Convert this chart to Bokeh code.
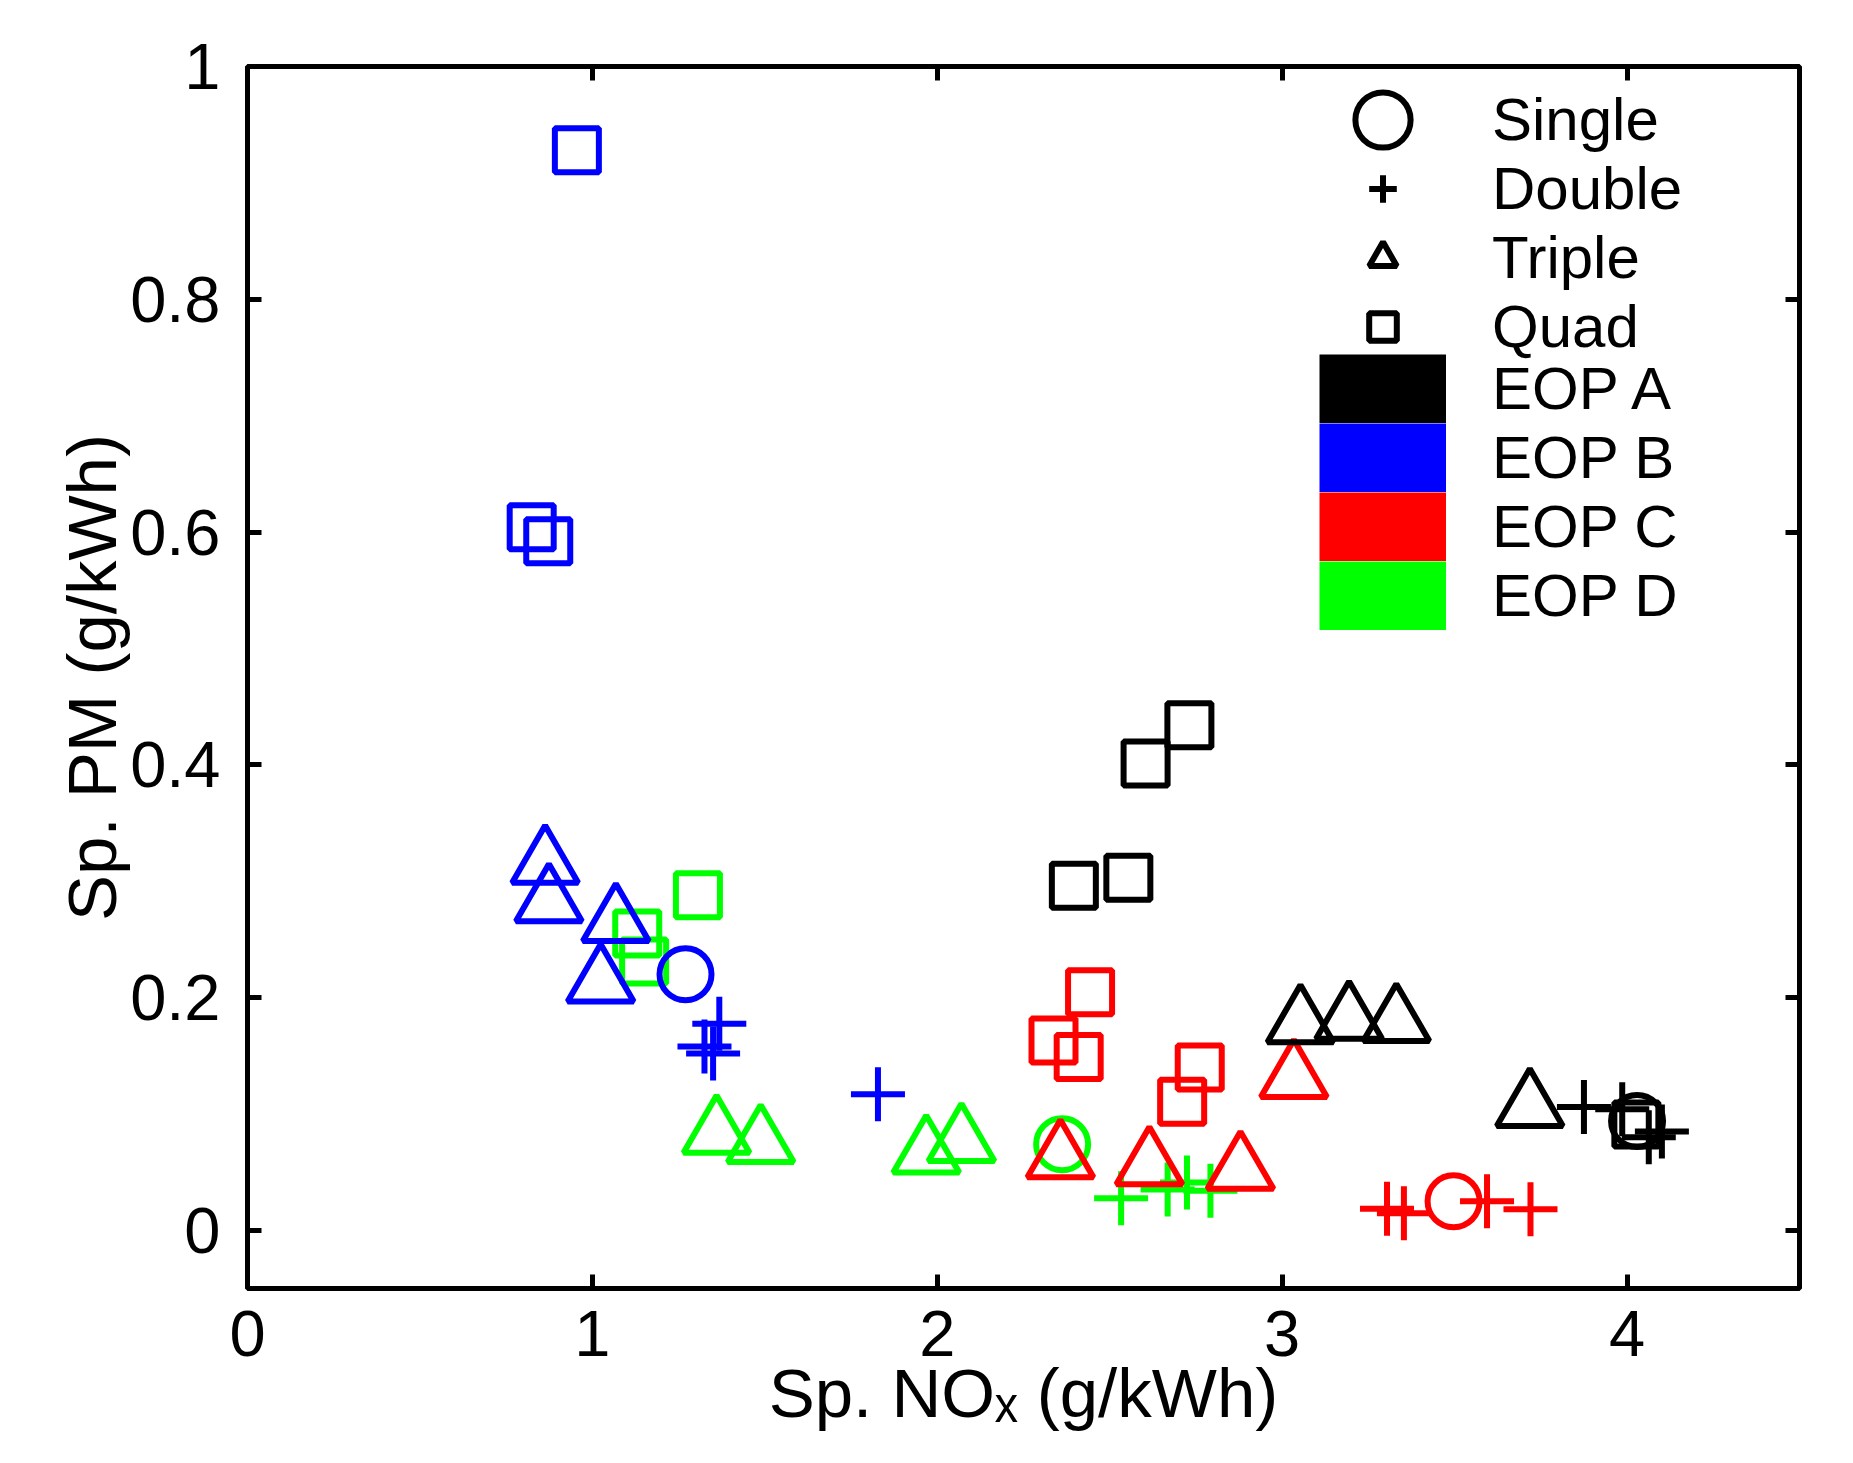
from bokeh.plotting import figure
from bokeh.models import (Range1d, FixedTicker, PrintfTickFormatter, LinearAxis,
                          Legend, LegendItem)
from bokeh.embed import file_html
from bokeh.resources import INLINE

# EOP A (black)
eop_a_nox = [2.604, 2.731, 2.396, 2.554, 4.027, 3.053, 3.194, 3.331, 3.718, 3.875, 3.986, 4.063, 4.101, 4.029]
eop_a_pm = [0.401, 0.434, 0.296, 0.303, 0.091, 0.178, 0.181, 0.179, 0.106, 0.106, 0.104, 0.080, 0.085, 0.094]
eop_a_cfg = ["Quad", "Quad", "Quad", "Quad", "Quad", "Triple", "Triple", "Triple", "Triple",
             "Double", "Double", "Double", "Double", "Single"]

# EOP B (blue)
eop_b_nox = [0.955, 0.824, 0.872, 0.863, 0.874, 1.068, 1.024, 1.270, 1.368, 1.325, 1.350, 1.828]
eop_b_pm = [0.928, 0.604, 0.592, 0.315, 0.282, 0.265, 0.213, 0.220, 0.1775, 0.158, 0.152, 0.117]
eop_b_cfg = ["Quad", "Quad", "Quad", "Triple", "Triple", "Triple", "Triple", "Single",
             "Double", "Double", "Double", "Double"]

# EOP C (red)
eop_c_nox = [2.443, 2.337, 2.410, 2.761, 2.710, 3.034, 2.615, 2.879, 2.357, 3.497, 3.304, 3.353, 3.594, 3.720]
eop_c_pm = [0.2045, 0.163, 0.149, 0.140, 0.1105, 0.131, 0.056, 0.052, 0.062, 0.025, 0.0186, 0.0146, 0.025, 0.018]
eop_c_cfg = ["Quad", "Quad", "Quad", "Quad", "Quad", "Triple", "Triple", "Triple", "Triple",
             "Single", "Double", "Double", "Double", "Double"]

# EOP D (green)
eop_d_nox = [1.306, 1.130, 1.150, 1.360, 1.488, 1.968, 2.070, 2.362, 2.533, 2.668, 2.724, 2.792]
eop_d_pm = [0.288, 0.255, 0.231, 0.083, 0.075, 0.066, 0.076, 0.074, 0.0275, 0.035, 0.041, 0.034]
eop_d_cfg = ["Quad", "Quad", "Quad", "Triple", "Triple", "Triple", "Triple", "Single",
             "Double", "Double", "Double", "Double"]

eop_names = ["EOP A", "EOP B", "EOP C", "EOP D"]
cfg_names = ["Single", "Double", "Triple", "Quad"]
x_ticks = [0, 1, 2, 3, 4]
y_ticks = [0, 0.2, 0.4, 0.6, 0.8, 1]

colors = {"EOP A": "#000000", "EOP B": "#0000ff", "EOP C": "#ff0000", "EOP D": "#00ff00"}
markers = {"Single": ("circle", 52), "Double": ("cross", 54),
           "Triple": ("triangle", 66), "Quad": ("square", 44)}
FONT = "Liberation Sans"
ROW = 69  # legend row pitch, px

p = figure(frame_width=1552, frame_height=1222,
           x_range=Range1d(0, 4.5), y_range=Range1d(-0.05, 1),
           output_backend="svg", toolbar_location=None,
           min_border_left=247, min_border_right=38, min_border_top=66, min_border_bottom=159,
           x_axis_label="Sp. NO\u2093 (g/kWh)", y_axis_label="Sp. PM (g/kWh)")
p.grid.grid_line_color = None
p.outline_line_color = "black"
p.outline_line_width = 5
p.background_fill_color = "white"
p.border_fill_color = "white"

p.add_layout(LinearAxis(), "right")
p.add_layout(LinearAxis(), "above")

for ax in p.xaxis:
    ax.ticker = FixedTicker(ticks=x_ticks)
for ax in p.yaxis:
    ax.ticker = FixedTicker(ticks=y_ticks)
for ax in p.axis:
    ax.formatter = PrintfTickFormatter(format="%g")
    ax.axis_line_color = None
    ax.major_tick_in = 14
    ax.major_tick_out = 0
    ax.major_tick_line_width = 5
    ax.major_tick_line_color = "black"
    ax.minor_tick_line_color = None
    ax.major_label_text_font = FONT
    ax.major_label_text_font_size = "65px"
    ax.major_label_text_color = "black"
    ax.axis_label_text_font = FONT
    ax.axis_label_text_font_size = "69px"
    ax.axis_label_text_font_style = "normal"
    ax.axis_label_text_color = "black"

# top and right axes carry the inward ticks only
for ax in (p.above[0], p.right[0]):
    ax.major_label_text_color = None
    ax.major_label_text_font_size = "1px"
    ax.major_label_standoff = 0

p.below[0].major_label_standoff = 22
p.below[0].axis_label_standoff = -4
p.left[0].major_label_standoff = 27
p.left[0].axis_label_standoff = -4

series = [("EOP D", eop_d_nox, eop_d_pm, eop_d_cfg),
          ("EOP C", eop_c_nox, eop_c_pm, eop_c_cfg),
          ("EOP B", eop_b_nox, eop_b_pm, eop_b_cfg),
          ("EOP A", eop_a_nox, eop_a_pm, eop_a_cfg)]

renderers = {}
for name, xs, ys, cfg in series:
    for kind in ["Quad", "Triple", "Single", "Double"]:
        sx = [x for x, c in zip(xs, cfg) if c == kind]
        sy = [y for y, c in zip(ys, cfg) if c == kind]
        if not sx:
            continue
        mk, size = markers[kind]
        if kind == "Single":
            # ellipse in screen units looks like the circle marker and keeps its size in the legend
            r = p.ellipse(sx, sy, width=size, height=size, width_units="screen",
                          height_units="screen", fill_color=None,
                          line_color=colors[name], line_width=6)
        else:
            r = p.scatter(sx, sy, marker=mk, size=size, fill_color=None,
                          line_color=colors[name], line_width=6)
        renderers[(name, kind)] = r

# legend 1: shapes (black EOP A marks)
shape_items = [LegendItem(label=kind, renderers=[renderers[("EOP A", kind)]]) for kind in cfg_names]

# legend 2: colour blocks drawn as thick legend lines
eop_items = []
for name, xs, ys, cfg in reversed(series):
    # a single-point line draws nothing in the plot, only its legend swatch
    r = p.line(xs[:1], ys[:1], line_color=colors[name], line_width=ROW)
    eop_items.append(LegendItem(label=name, renderers=[r]))

for its, loc in ((shape_items, (1072, 927)), (eop_items, (1072, 658))):
    legend = Legend(items=its, location=loc, glyph_width=127, glyph_height=ROW,
                    spacing=0, label_standoff=46, padding=0, margin=0,
                    border_line_color=None, background_fill_alpha=0,
                    label_text_font=FONT, label_text_font_size="60px",
                    label_text_color="black")
    p.add_layout(legend)

open("out.html", "w").write(file_html(p, INLINE))
